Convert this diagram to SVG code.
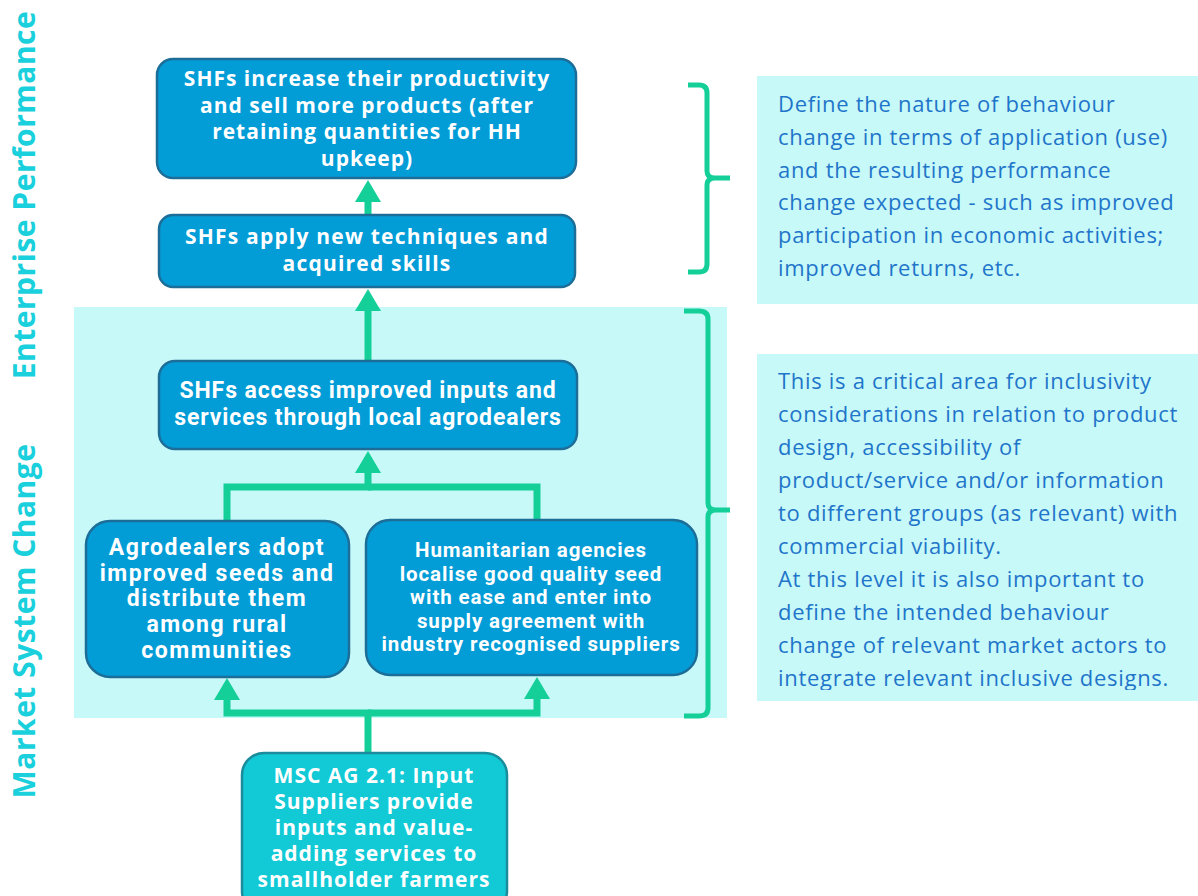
<svg xmlns="http://www.w3.org/2000/svg" width="1198" height="896" viewBox="0 0 1198 896">
<style>
.box{fill:#029CD7;stroke:#1C6E98;stroke-width:2.5}
.boxm{fill:#12C9D6;stroke:#1B8C9C;stroke-width:2.5}
.bt{font-family:"Open Sans",sans-serif;font-weight:700;fill:#fff;text-anchor:middle;font-size:21px;letter-spacing:1px}
.bc{font-family:Roboto,sans-serif;font-weight:700;fill:#fff;text-anchor:middle}
.con{fill:none;stroke:#14CF98;stroke-width:7}
.brace{fill:none;stroke:#14CF98;stroke-width:5;stroke-linejoin:round}
.note{fill:#C7F9F9}
.nt{font-family:"Open Sans",sans-serif;font-size:22px;letter-spacing:0.7px;fill:#1F75C9}
.side{font-family:"Open Sans",sans-serif;font-weight:700;font-size:30px;letter-spacing:0.5px;fill:#19D0DC;text-anchor:middle}
</style>
<defs>
<marker id="ah" markerUnits="userSpaceOnUse" markerWidth="22" markerHeight="26" viewBox="0 0 22 26" refX="0" refY="13" orient="auto">
<path d="M0 0 L22 13 L0 26 Z" fill="#14CF98"/>
</marker>
<clipPath id="clip2"><rect x="757" y="354" width="441" height="336"/></clipPath>
</defs>
<rect x="74" y="307" width="653" height="411" fill="#C7F9F9"/>
<g id="labels">
<text class="side" transform="translate(35,195) rotate(-90)">Enterprise Performance</text>
<text class="side" transform="translate(35,621) rotate(-90)">Market System Change</text>
</g>
<g id="connectors">
<path class="con" d="M368 215 V202" marker-end="url(#ah)"/>
<path class="con" d="M368 361 V311" marker-end="url(#ah)"/>
<path class="con" d="M227 521 V487 H368 V473" marker-end="url(#ah)"/>
<path class="con" d="M537 520 V487 H368"/>
<path class="con" d="M368 753 V713 H227 V700" marker-end="url(#ah)"/>
<path class="con" d="M368 713 H537 V699" marker-end="url(#ah)"/>
</g>
<g id="n1">
<rect class="box" x="157" y="59" width="419" height="119" rx="16"/>
<text class="bt" x="367" y="86">SHFs increase their productivity</text>
<text class="bt" x="367" y="112.5">and sell more products (after</text>
<text class="bt" x="367" y="139">retaining quantities for HH</text>
<text class="bt" x="367" y="165.5">upkeep)</text>
</g>
<g id="n2">
<rect class="box" x="159" y="215" width="416" height="72" rx="14"/>
<text class="bt" x="367" y="244" style="letter-spacing:1.2px">SHFs apply new techniques and</text>
<text class="bt" x="367" y="270.5" style="letter-spacing:1.2px">acquired skills</text>
</g>
<g id="n3">
<rect class="box" x="159" y="361" width="418" height="88" rx="16"/>
<text class="bc" font-size="23" letter-spacing="0.9" x="368" y="398">SHFs access improved inputs and</text>
<text class="bc" font-size="23" letter-spacing="0.9" x="368" y="425">services through local agrodealers</text>
</g>
<g id="n4">
<rect class="box" x="86" y="521" width="263" height="156" rx="24"/>
<text class="bc" font-size="23" letter-spacing="1.5" x="217" y="555">Agrodealers adopt</text>
<text class="bc" font-size="23" letter-spacing="1.5" x="217" y="581">improved seeds and</text>
<text class="bc" font-size="23" letter-spacing="1.5" x="217" y="606">distribute them</text>
<text class="bc" font-size="23" letter-spacing="1.5" x="217" y="632">among rural</text>
<text class="bc" font-size="23" letter-spacing="1.5" x="217" y="658">communities</text>
</g>
<g id="n5">
<rect class="box" x="366" y="520" width="331" height="155" rx="24"/>
<text class="bc" font-size="20.5" letter-spacing="0.9" x="531" y="557">Humanitarian agencies</text>
<text class="bc" font-size="20.5" letter-spacing="0.9" x="531" y="581">localise good quality seed</text>
<text class="bc" font-size="20.5" letter-spacing="0.9" x="531" y="604">with ease and enter into</text>
<text class="bc" font-size="20.5" letter-spacing="0.9" x="531" y="628">supply agreement with</text>
<text class="bc" font-size="20.5" letter-spacing="0.9" x="531" y="651">industry recognised suppliers</text>
</g>
<g id="n6">
<rect class="boxm" x="242" y="753" width="265" height="160" rx="22"/>
<text class="bt" x="374" y="783">MSC AG 2.1: Input</text>
<text class="bt" x="374" y="809">Suppliers provide</text>
<text class="bt" x="374" y="835">inputs and value-</text>
<text class="bt" x="374" y="861">adding services to</text>
<text class="bt" x="374" y="887">smallholder farmers</text>
</g>
<g id="braces">
<path class="brace" d="M688 85 H699 Q707 85 707 93 V171 Q707 178 715 178 H730 M715 178 Q707 178 707 185 V264 Q707 272 699 272 H688"/>
<path class="brace" d="M684 311 H699 Q708 311 708 319 V503 Q708 510 716 510 H730 M716 510 Q708 510 708 517 V708 Q708 716 699 716 H684"/>
</g>
<g id="note1">
<rect class="note" x="757" y="76" width="441" height="228"/>
<text class="nt" x="778" y="112">Define the nature of behaviour</text>
<text class="nt" x="778" y="145">change in terms of application (use)</text>
<text class="nt" x="778" y="177.5">and the resulting performance</text>
<text class="nt" x="778" y="210">change expected - such as improved</text>
<text class="nt" x="778" y="243">participation in economic activities;</text>
<text class="nt" x="778" y="276">improved returns, etc.</text>
</g>
<g id="note2">
<rect class="note" x="757" y="354" width="441" height="347"/>
<g clip-path="url(#clip2)">
<text class="nt" x="778" y="389">This is a critical area for inclusivity</text>
<text class="nt" x="778" y="422">considerations in relation to product</text>
<text class="nt" x="778" y="455">design, accessibility of</text>
<text class="nt" x="778" y="488">product/service and/or information</text>
<text class="nt" x="778" y="521">to different groups (as relevant) with</text>
<text class="nt" x="778" y="554">commercial viability.</text>
<text class="nt" x="778" y="587">At this level it is also important to</text>
<text class="nt" x="778" y="620">define the intended behaviour</text>
<text class="nt" x="778" y="653">change of relevant market actors to</text>
<text class="nt" x="778" y="686">integrate relevant inclusive designs.</text>
</g>
</g>
</svg>
